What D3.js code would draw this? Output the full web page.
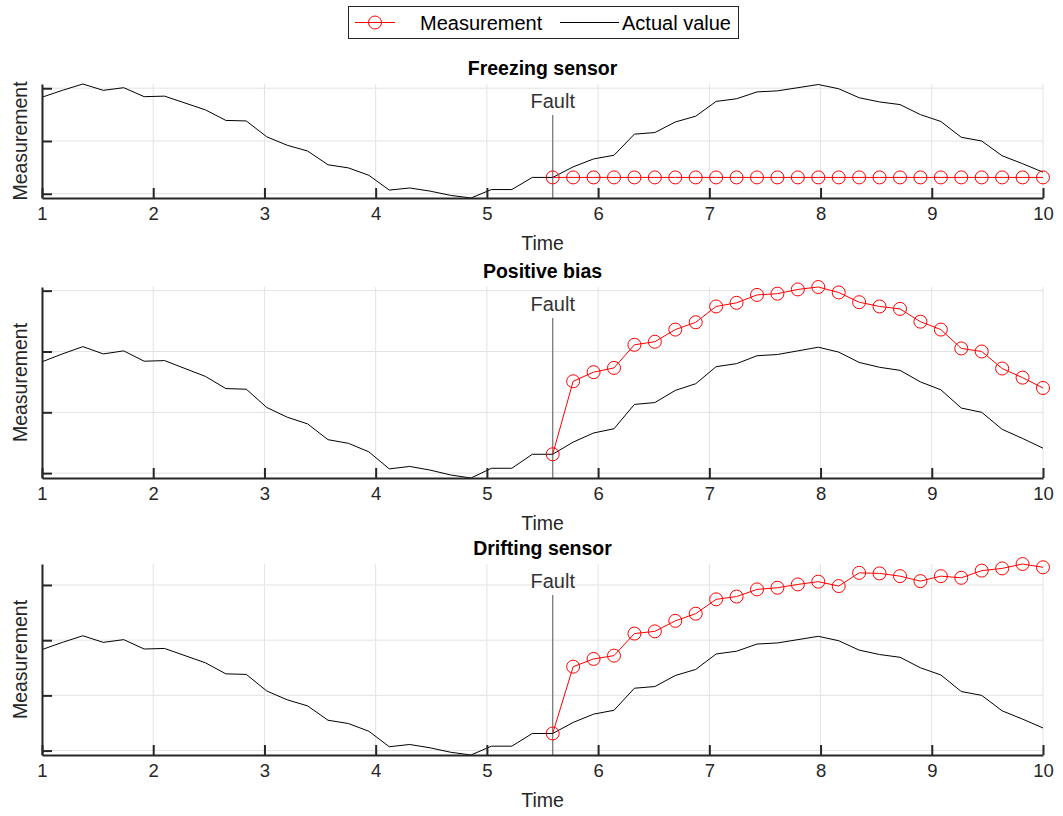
<!DOCTYPE html>
<html>
<head>
<meta charset="utf-8">
<script src="https://cdn.jsdelivr.net/npm/d3@7"></script>
<style>
  body { margin: 0; background: #fff; }
  svg { font-family: "Liberation Sans", Arial, sans-serif; }
</style>
</head>
<body>
<svg id="chart" width="1063" height="816"></svg>
<script>
// Time samples (linspace 1..10, 50 points)
const time = [1.0000, 1.1837, 1.3673, 1.5510, 1.7347, 1.9184, 2.1020, 2.2857, 2.4694, 2.6531,
              2.8367, 3.0204, 3.2041, 3.3878, 3.5714, 3.7551, 3.9388, 4.1224, 4.3061, 4.4898,
              4.6735, 4.8571, 5.0408, 5.2245, 5.4082, 5.5918, 5.7755, 5.9592, 6.1429, 6.3265,
              6.5102, 6.6939, 6.8776, 7.0612, 7.2449, 7.4286, 7.6122, 7.7959, 7.9796, 8.1633,
              8.3469, 8.5306, 8.7143, 8.8980, 9.0816, 9.2653, 9.4490, 9.6327, 9.8163, 10.0000];

// Actual value (same in all three plots)
const actual = [1.83, 1.96, 2.08, 1.96, 2.01, 1.84, 1.85, 1.72, 1.59, 1.39,
                1.38, 1.08, 0.92, 0.81, 0.55, 0.49, 0.35, 0.07, 0.11, 0.05,
                -0.03, -0.08, 0.08, 0.08, 0.31, 0.31, 0.51, 0.66, 0.73, 1.13,
                1.16, 1.36, 1.47, 1.75, 1.80, 1.93, 1.95, 2.01, 2.07, 1.99,
                1.82, 1.74, 1.69, 1.50, 1.37, 1.07, 1.00, 0.72, 0.57, 0.41];

// Measurements from the fault onwards (index 25 .. 49)
const faultIndex = 25;
const faultTime = 5.5918;
const freezing = [0.31, 0.31, 0.31, 0.31, 0.31, 0.31, 0.31, 0.31, 0.31, 0.31,
                  0.31, 0.31, 0.31, 0.31, 0.31, 0.31, 0.31, 0.31, 0.31, 0.31,
                  0.31, 0.31, 0.31, 0.31, 0.31];
const bias = [0.31, 1.51, 1.66, 1.73, 2.11, 2.16, 2.36, 2.48, 2.74, 2.80,
              2.93, 2.95, 3.02, 3.06, 2.97, 2.81, 2.74, 2.70, 2.49, 2.36,
              2.05, 2.00, 1.72, 1.57, 1.40];
const drift = [0.31, 1.52, 1.66, 1.72, 2.12, 2.16, 2.35, 2.48, 2.74, 2.79,
               2.92, 2.95, 3.01, 3.06, 2.98, 3.22, 3.21, 3.16, 3.07, 3.16,
               3.13, 3.26, 3.30, 3.38, 3.32];

const titles = ["Freezing sensor", "Positive bias", "Drifting sensor"];
const measurements = [freezing, bias, drift];
const xTicks = [1, 2, 3, 4, 5, 6, 7, 8, 9, 10];

// Layout of the three axes boxes
const left = 42, right = 1043;
const boxes = [
  { top: 84, bottom: 198 },
  { top: 287, bottom: 478 },
  { top: 564, bottom: 755 }
];

const axisColor = "#262626";
const gridColor = "#e3e3e3";
const svg = d3.select("#chart");

const x = d3.scaleLinear().domain([1, 10]).range([left, right]);
const measTime = time.slice(faultIndex);

boxes.forEach((b, k) => {
  const meas = measurements[k];
  const y = d3.scaleLinear()
      .domain(d3.extent(actual.concat(meas)))
      .range([b.bottom, b.top]);
  const yTicks = y.ticks(3);

  const g = svg.append("g");

  // grid
  g.append("g").selectAll("line")
    .data(xTicks)
    .join("line")
      .attr("x1", d => x(d)).attr("x2", d => x(d))
      .attr("y1", b.top).attr("y2", b.bottom)
      .attr("stroke", gridColor).attr("stroke-width", 1);
  g.append("g").selectAll("line")
    .data(yTicks)
    .join("line")
      .attr("x1", left).attr("x2", right)
      .attr("y1", d => y(d)).attr("y2", d => y(d))
      .attr("stroke", gridColor).attr("stroke-width", 1);

  // fault marker
  g.append("line")
      .attr("x1", x(faultTime)).attr("x2", x(faultTime))
      .attr("y1", b.top + 31).attr("y2", b.bottom)
      .attr("stroke", "#7a7a7a").attr("stroke-width", 1.3);
  g.append("text")
      .attr("x", x(faultTime)).attr("y", b.top + 24)
      .attr("text-anchor", "middle")
      .attr("font-size", 20).attr("fill", "#333")
      .text("Fault");

  // actual value
  const line = d3.line().x((d, i) => x(time[i])).y(d => y(d));
  g.append("path")
      .attr("d", line(actual))
      .attr("fill", "none").attr("stroke", "#000").attr("stroke-width", 1);

  // measurement
  const mline = d3.line().x((d, i) => x(measTime[i])).y(d => y(d));
  g.append("path")
      .attr("d", mline(meas))
      .attr("fill", "none").attr("stroke", "#ff0000").attr("stroke-width", 1);
  g.append("g").selectAll("circle")
    .data(meas)
    .join("circle")
      .attr("cx", (d, i) => x(measTime[i]))
      .attr("cy", d => y(d))
      .attr("r", 6.5)
      .attr("fill", "none").attr("stroke", "#ff0000").attr("stroke-width", 1);

  // x axis
  g.append("g")
      .attr("transform", `translate(0,${b.bottom})`)
      .call(d3.axisBottom(x).tickValues(xTicks).tickSize(-10).tickSizeOuter(0).tickPadding(0))
      .call(a => a.select(".domain").attr("stroke", axisColor).attr("stroke-width", 2))
      .call(a => a.selectAll(".tick line").attr("stroke", axisColor).attr("stroke-width", 2))
      .call(a => a.selectAll(".tick text")
          .attr("y", 22).attr("dy", null)
          .attr("font-size", 18.5).attr("font-family", null).attr("fill", axisColor));

  // y axis (no labels)
  g.append("g")
      .attr("transform", `translate(${left},0)`)
      .call(d3.axisLeft(y).tickValues(yTicks).tickSize(-10).tickSizeOuter(0).tickFormat(""))
      .call(a => a.select(".domain").attr("stroke", axisColor).attr("stroke-width", 2))
      .call(a => a.selectAll(".tick line").attr("stroke", axisColor).attr("stroke-width", 2));

  // labels and title
  g.append("text")
      .attr("x", (left + right) / 2).attr("y", b.bottom + 52)
      .attr("text-anchor", "middle").attr("font-size", 19.5).attr("fill", axisColor)
      .text("Time");
  g.append("text")
      .attr("transform", `translate(27,${(b.top + b.bottom) / 2}) rotate(-90)`)
      .attr("text-anchor", "middle").attr("font-size", 19.5).attr("fill", axisColor)
      .text("Measurement");
  g.append("text")
      .attr("x", (left + right) / 2).attr("y", b.top - 9)
      .attr("text-anchor", "middle").attr("font-size", 19.5).attr("font-weight", "bold")
      .attr("fill", "#000")
      .text(titles[k]);
});

// legend
const legend = svg.append("g");
legend.append("rect")
    .attr("x", 348.5).attr("y", 6.5).attr("width", 390).attr("height", 32)
    .attr("fill", "#fff").attr("stroke", axisColor).attr("stroke-width", 1);
legend.append("line")
    .attr("x1", 355).attr("x2", 395).attr("y1", 22.5).attr("y2", 22.5)
    .attr("stroke", "#ff0000").attr("stroke-width", 1);
legend.append("circle")
    .attr("cx", 375).attr("cy", 22.5).attr("r", 6.5)
    .attr("fill", "none").attr("stroke", "#ff0000").attr("stroke-width", 1);
legend.append("text")
    .attr("x", 420).attr("y", 29.5).attr("font-size", 20).attr("fill", "#000")
    .text("Measurement");
legend.append("line")
    .attr("x1", 560).attr("x2", 619).attr("y1", 22.5).attr("y2", 22.5)
    .attr("stroke", "#000").attr("stroke-width", 1);
legend.append("text")
    .attr("x", 622).attr("y", 29.5).attr("font-size", 20).attr("fill", "#000")
    .text("Actual value");
</script>
</body>
</html>
